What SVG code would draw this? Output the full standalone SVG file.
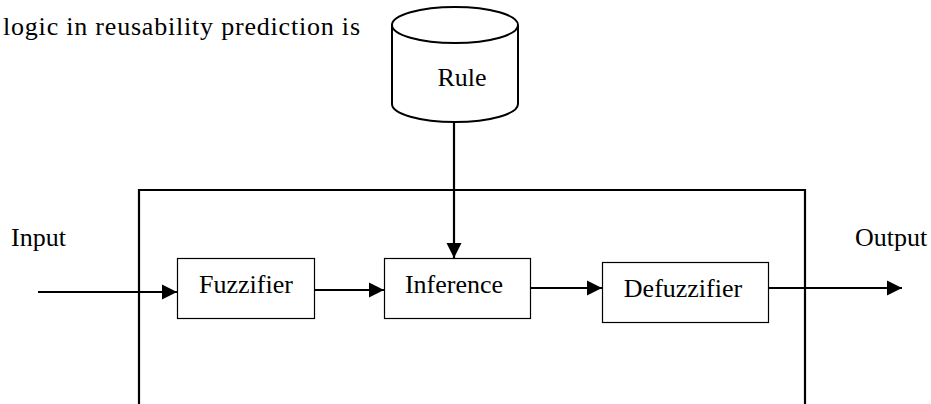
<svg xmlns="http://www.w3.org/2000/svg" width="931" height="404" viewBox="0 0 931 404">
  <style>
    text { font-family: "Liberation Serif", "Times New Roman", serif; font-size: 26px; fill: #000; }
    .box { fill: #fff; stroke: #000; stroke-width: 1.2; }
    .frame { fill: none; stroke: #000; stroke-width: 2.2; }
    .db { fill: #fff; stroke: #000; stroke-width: 2; }
    .wire { fill: none; stroke: #000; stroke-width: 2.2; }
  </style>
  <defs>
    <marker id="arrow" viewBox="0 0 10 10" refX="10" refY="5" markerWidth="7" markerHeight="7" markerUnits="strokeWidth" orient="auto">
      <path d="M0,0 L10,5 L0,10 Z" fill="#000"/>
    </marker>
  </defs>

  <rect width="931" height="404" fill="#fff"/>

  <!-- body text above the figure -->
  <text x="3" y="35" textLength="357" lengthAdjust="spacing">logic in reusability prediction is</text>

  <!-- system boundary (open at the bottom) -->
  <path class="frame" d="M139,404 L139,190 L805,190 L805,404"/>

  <g id="rule">
    <path class="db" d="M392,25 L392,104 A63,18 0 0 0 518,104 L518,25"/>
    <ellipse class="db" cx="455" cy="25" rx="63" ry="18"/>
    <text x="462" y="86" text-anchor="middle">Rule</text>
  </g>

  <g id="input">
    <text x="11" y="246">Input</text>
  </g>

  <g id="output">
    <text x="855" y="246">Output</text>
  </g>

  <g id="fuzzifier">
    <rect class="box" x="177.5" y="258.5" width="137" height="60"/>
    <text x="246" y="293" text-anchor="middle">Fuzzifier</text>
  </g>

  <g id="inference">
    <rect class="box" x="384.5" y="258.5" width="146" height="60"/>
    <text x="454" y="293" text-anchor="middle">Inference</text>
  </g>

  <g id="defuzzifier">
    <rect class="box" x="602.5" y="262.5" width="166" height="60"/>
    <text x="683" y="297" text-anchor="middle">Defuzzifier</text>
  </g>

  <g id="connectors">
    <line class="wire" x1="38" y1="292" x2="177" y2="292" marker-end="url(#arrow)"/>
    <line class="wire" x1="315" y1="290" x2="384" y2="290" marker-end="url(#arrow)"/>
    <line class="wire" x1="531" y1="288" x2="602" y2="288" marker-end="url(#arrow)"/>
    <line class="wire" x1="769" y1="288" x2="902" y2="288" marker-end="url(#arrow)"/>
    <line class="wire" x1="454" y1="122" x2="454" y2="258" marker-end="url(#arrow)"/>
  </g>
</svg>
